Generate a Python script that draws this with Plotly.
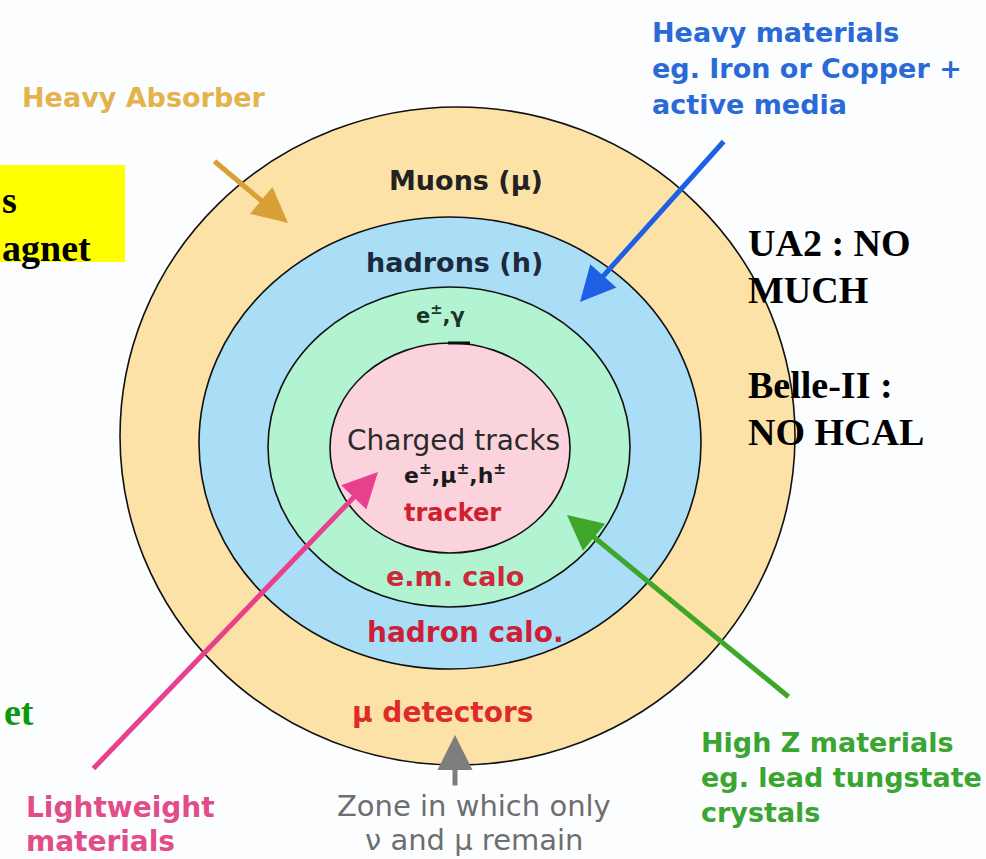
import plotly.graph_objects as go

# ---------------- data ----------------
ring_names = ["Muon detectors", "Hadron calorimeter", "EM calorimeter", "Tracker"]
ring_left = [120, 199, 268, 330]
ring_right = [795, 701, 630, 570]
ring_top = [107, 217, 287, 343]
ring_bottom = [765, 669, 607, 553]
ring_colors = ["#fde2a8", "#a9def6", "#b2f4d2", "#fbd3dc"]

# labels inside the rings
inner_text = ["Muons (μ)", "hadrons (h)", "e<sup>±</sup>,γ", "Charged tracks",
              "e<sup>±</sup>,μ<sup>±</sup>,h<sup>±</sup>", "tracker", "e.m. calo",
              "hadron calo.", "μ detectors"]
inner_x = [466, 454, 440, 453, 455, 452, 455, 465, 442]
inner_y = [180, 262, 314, 440, 474, 513, 576, 632, 712]
inner_color = ["#222222", "#1c2a3c", "#1d3325", "#2a2a2a", "#1a1a1a", "#d0202f",
               "#cc2a3c", "#cc1f3a", "#dd2b2b"]
inner_size = [27, 27, 21, 28, 22, 24, 27, 28, 28]
inner_bold = [True, True, True, False, True, True, True, True, True]

# arrows: head (x, y) and tail (x, y)
arrow_names = ["Heavy Absorber", "Heavy materials", "Lightweight", "High Z", "Zone"]
arrow_head_x = [288, 580, 378, 567, 455]
arrow_head_y = [223, 302, 472, 515, 735]
arrow_tail_x = [213, 725, 92, 790, 455]
arrow_tail_y = [160, 140, 770, 698, 787]
arrow_colors = ["#d9a037", "#1f5fe6", "#e8408c", "#3ea72a", "#7d7d7d"]

# outer annotation blocks
heavy_abs_lines = ["Heavy Absorber"]
heavy_mat_lines = ["Heavy materials", "eg. Iron or Copper +", "active media"]
light_lines = ["Lightweight", "materials"]
zone_lines = ["Zone in which only", "ν and μ remain"]
highz_lines = ["High Z materials", "eg. lead tungstate", "crystals"]
note_lines = ["UA2 : NO", "MUCH", "", "Belle-II :", "NO HCAL"]
box_lines = ["s", "agnet"]
green_lines = ["et"]

SANS = "DejaVu Sans"
SERIF = "Liberation Serif"

fig = go.Figure()
fig.add_trace(go.Scatter(x=[0, 986], y=[0, 859], mode="markers",
                         marker=dict(opacity=0), hoverinfo="skip", showlegend=False))

shapes = []
shapes.append(dict(type="rect", xref="x", yref="y", x0=0, x1=125, y0=165, y1=262,
                   fillcolor="#ffff00", line=dict(width=0), layer="below"))
for name, l, r, t, b, c in zip(ring_names, ring_left, ring_right, ring_top, ring_bottom, ring_colors):
    shapes.append(dict(type="circle", xref="x", yref="y", x0=l, x1=r, y0=t, y1=b,
                       fillcolor=c, line=dict(color="#111111", width=1.6), layer="below"))
shapes.append(dict(type="line", xref="x", yref="y", x0=448, x1=470, y0=343, y1=343,
                   line=dict(color="#111111", width=3)))

ann = []
for t, x, y, c, s, b in zip(inner_text, inner_x, inner_y, inner_color, inner_size, inner_bold):
    ann.append(dict(x=x, y=y, xref="x", yref="y", text=(f"<b>{t}</b>" if b else t),
                    showarrow=False, xanchor="center", yanchor="middle",
                    font=dict(family=SANS, size=s, color=c)))

for hx, hy, tx, ty, c in zip(arrow_head_x, arrow_head_y, arrow_tail_x, arrow_tail_y, arrow_colors):
    ann.append(dict(x=hx, y=hy, ax=tx, ay=ty, xref="x", yref="y", axref="x", ayref="y",
                    text="", showarrow=True, arrowhead=2, arrowsize=1.4, arrowwidth=5,
                    arrowcolor=c, standoff=0, startstandoff=0))


def block(lines, x, y0, dy, anchor, color, size, bold, family):
    for i, t in enumerate(lines):
        if not t:
            continue
        ann.append(dict(x=x, y=y0 + i * dy, xref="x", yref="y",
                        text=(f"<b>{t}</b>" if bold else t), showarrow=False,
                        xanchor=anchor, yanchor="middle",
                        font=dict(family=family, size=size, color=color)))


block(heavy_abs_lines, 144, 97, 0, "center", "#e4b34c", 27, True, SANS)
block(heavy_mat_lines, 650, 32, 36, "left", "#2a6ad6", 27, True, SANS)
block(light_lines, 24, 807, 34, "left", "#e24c88", 28, True, SANS)
block(zone_lines, 474, 806, 34, "center", "#6e6e6e", 29, False, SANS)
block(highz_lines, 699, 742, 35, "left", "#3aa531", 27, True, SANS)
block(note_lines, 746, 243, 47.3, "left", "#000000", 38, True, SERIF)
block(box_lines, 0, 200, 48, "left", "#000000", 38, True, SERIF)
block(green_lines, 2, 712, 0, "left", "#0a9a0a", 38, True, SERIF)

fig.update_layout(
    width=986, height=859,
    margin=dict(l=0, r=0, t=0, b=0),
    paper_bgcolor="#fbfdfe", plot_bgcolor="#fbfdfe",
    xaxis=dict(range=[0, 986], visible=False, fixedrange=True),
    yaxis=dict(range=[859, 0], visible=False, fixedrange=True),
    shapes=shapes, annotations=ann, showlegend=False,
)

fig.write_html("out.html", config={"displayModeBar": False},
               post_script="document.body.style.margin='0';document.body.style.padding='0';"
                           "document.body.style.overflow='hidden';")
